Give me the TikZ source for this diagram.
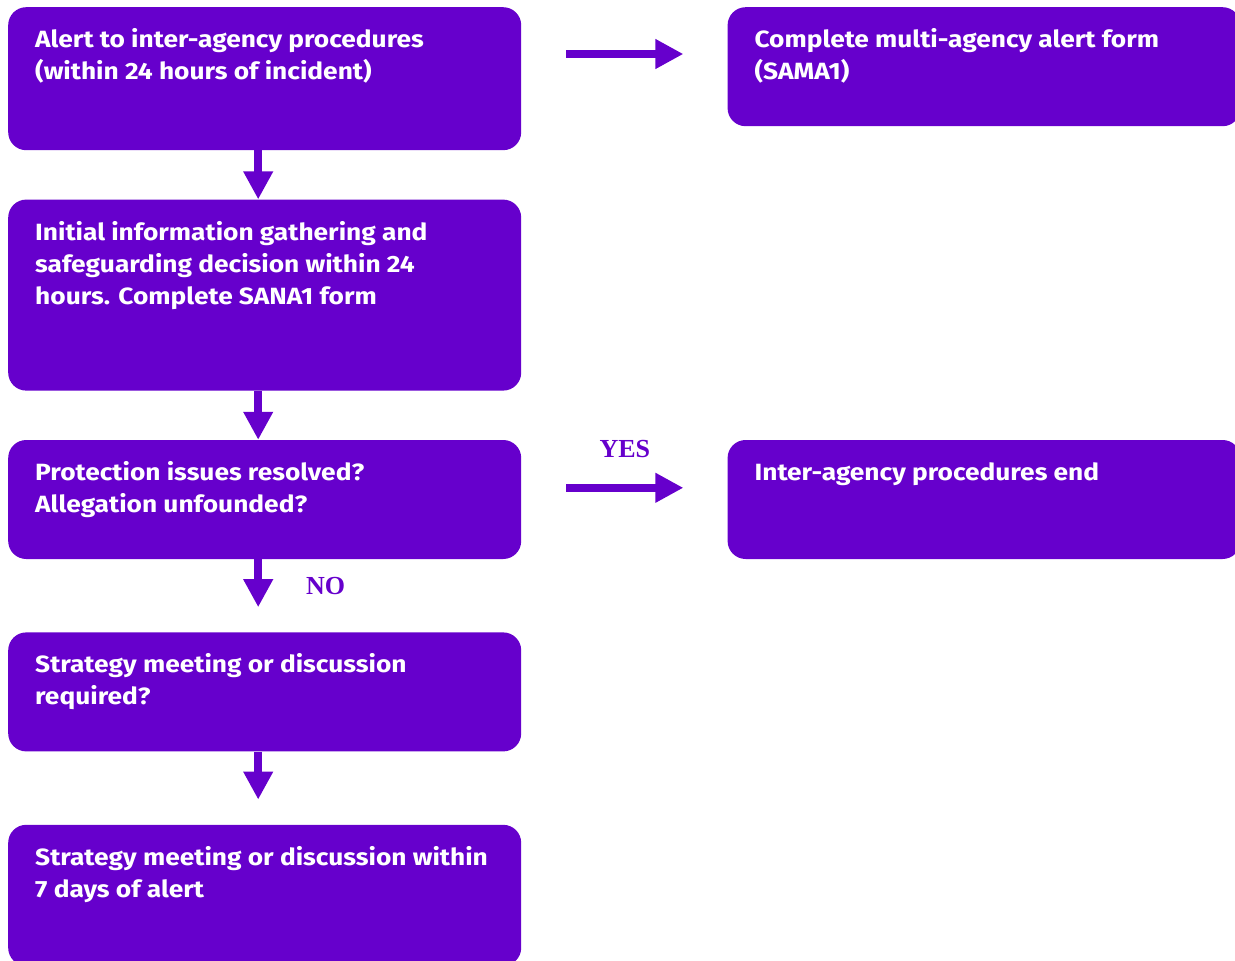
\documentclass[tikz,border=0pt]{standalone}
\usepackage{fontspec}
\setmainfont{Liberation Serif}
\newfontfamily\boxfont[FakeStretch=1.12]{Fira Sans}
\usetikzlibrary{arrows.meta,positioning,calc}

\definecolor{flowpurple}{RGB}{102,0,204}
% text block of a box, set from the top left corner
\newcommand{\boxtext}[2]{\parbox[t][#1][t]{459pt}{\raggedright\strut #2}}

\begin{document}
\begin{tikzpicture}[
    x=1pt, y=-1pt,
    node distance=49pt,
    box/.style={rectangle, fill=flowpurple, rounded corners=18pt, inner xsep=27pt, inner ysep=18pt, anchor=north west, text=white, font=\boxfont\bfseries\fontsize{23.5}{32}\selectfont},
    arrow/.style={-{Triangle[length=28pt, width=28pt]}, line width=8pt, flowpurple},
    answer/.style={inner sep=0pt, text=flowpurple, font=\bfseries\fontsize{26}{26}\selectfont}
]
\useasboundingbox (0,0) rectangle (1235,961);
\clip (0,0) rectangle (1235,961);

% Left column
\node[box] (alert) at (8,7) {\boxtext{107pt}{Alert to inter-agency procedures\\(within 24 hours of incident)}};
\node[box, below=of alert] (gather) {\boxtext{155pt}{Initial information gathering and\\safeguarding decision within 24\\hours. Complete SANA1 form}};
\node[box, below=of gather] (decision) {\boxtext{83pt}{Protection issues resolved?\\Allegation unfounded?}};
\node[box, below=73pt of decision] (strategy) {\boxtext{83pt}{Strategy meeting or discussion\\required?}};
\node[box, below=73pt of strategy] (meeting) {\boxtext{105pt}{Strategy meeting or discussion within\\7 days of alert}};

% Right column
\node[box, right=206pt of alert.north east, anchor=north west] (samaform) {\boxtext{83pt}{Complete multi-agency alert form\\(SAMA1)}};
\node[box, right=206pt of decision.north east, anchor=north west] (procend) {\boxtext{83pt}{Inter-agency procedures end}};

% Downward arrows
\draw[arrow] ([xshift=-6.5pt]alert.south) -- ([xshift=-6.5pt]gather.north);
\draw[arrow] ([xshift=-6.5pt]gather.south) -- ([xshift=-6.5pt]decision.north);
\draw[arrow] ([xshift=-6.5pt]decision.south) -- ([xshift=-6.5pt, yshift=25pt]strategy.north) node[answer, midway, right=44pt, yshift=-3pt] {NO};
\draw[arrow] ([xshift=-6.5pt]strategy.south) -- ([xshift=-6.5pt, yshift=25pt]meeting.north);

% Sideways arrows
\draw[arrow] ($(alert.north east)+(45,47)$) -- ($(samaform.north west)+(-44,47)$);
\draw[arrow] ($(decision.north east)+(45,48)$) -- ($(procend.north west)+(-44,48)$) node[answer, midway, above=26pt] {YES};

\end{tikzpicture}
\end{document}
